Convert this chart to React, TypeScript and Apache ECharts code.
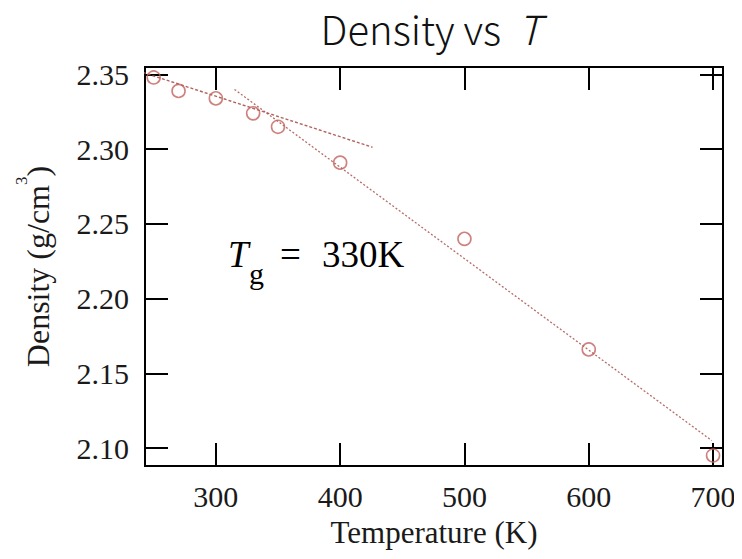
import React, { useEffect, useRef } from "react";
import * as echarts from "echarts";

// Measured density of the sample at each temperature
const temperatures = [250, 270, 300, 330, 350, 400, 500, 600, 700];
const densities = [2.348, 2.339, 2.334, 2.324, 2.315, 2.291, 2.240, 2.166, 2.095];

// Straight-line fits below and above the glass transition
const glassFitT = [226, 426];
const glassFitD = [2.3555, 2.3013];
const meltFitT = [315, 699];
const meltFitD = [2.340, 2.105];

// Axis ranges and ticks
const xRange = [243, 708];
const yRange = [2.088, 2.355];
const xTicks = [300, 400, 500, 600, 700];
const yTicks = [2.1, 2.15, 2.2, 2.25, 2.3, 2.35];

const serif = "Liberation Serif";
const markColor = "#c2625c";
const fitColor = "#a9524d";

export default function App() {
  const ref = useRef<HTMLDivElement>(null);

  useEffect(() => {
    if (!ref.current) return;
    const chart = echarts.init(ref.current, null, { renderer: "svg" });

    const tickStyle = { show: true, inside: true, length: 23, lineStyle: { color: "#000", width: 2 } };

    const option: any = {
      animation: false,
      backgroundColor: "#fff",
      grid: {
        left: 145,
        right: 19,
        top: 67,
        bottom: 93,
        show: true,
        borderColor: "#000",
        borderWidth: 2,
        containLabel: false,
        outerBoundsMode: "none",
      },
      xAxis: [
        {
          type: "value",
          min: xRange[0],
          max: xRange[1],
          position: "bottom",
          axisLine: { show: false },
          splitLine: { show: false },
          axisTick: { ...tickStyle, customValues: xTicks },
          axisLabel: {
            customValues: xTicks,
            margin: 15,
            fontFamily: serif,
            fontSize: 30,
            color: "#1a1a1a",
          },
          name: "Temperature (K)",
          nameLocation: "middle",
          nameGap: 51,
          nameTextStyle: { fontFamily: serif, fontSize: 31, color: "#1a1a1a" },
        },
        {
          type: "value",
          min: xRange[0],
          max: xRange[1],
          position: "top",
          axisLine: { show: false },
          splitLine: { show: false },
          axisTick: { ...tickStyle, customValues: xTicks },
          axisLabel: { show: false },
        },
      ],
      yAxis: [
        {
          type: "value",
          min: yRange[0],
          max: yRange[1],
          position: "left",
          axisLine: { show: false },
          splitLine: { show: false },
          axisTick: { ...tickStyle, customValues: yTicks },
          axisLabel: {
            customValues: yTicks,
            margin: 16,
            fontFamily: serif,
            fontSize: 30,
            color: "#1a1a1a",
            formatter: (v: number) => v.toFixed(2),
          },
          name: "{a|Density (g/cm}{s|3}{a|)}",
          nameLocation: "middle",
          nameGap: 82,
          nameTextStyle: {
            color: "#1a1a1a",
            rich: {
              a: { fontFamily: serif, fontSize: 32, color: "#1a1a1a", lineHeight: 50 },
              s: { fontFamily: serif, fontSize: 17, color: "#1a1a1a", verticalAlign: "top", lineHeight: 18 },
            },
          },
        },
        {
          type: "value",
          min: yRange[0],
          max: yRange[1],
          position: "right",
          axisLine: { show: false },
          splitLine: { show: false },
          axisTick: { ...tickStyle, customValues: yTicks },
          axisLabel: { show: false },
        },
      ],
      series: [
        {
          type: "line",
          data: glassFitT.map((t, i) => [t, glassFitD[i]]),
          showSymbol: false,
          clip: false,
          silent: true,
          lineStyle: { color: fitColor, width: 1.4, type: [3, 2], opacity: 0.9 },
          z: 2,
        },
        {
          type: "line",
          data: meltFitT.map((t, i) => [t, meltFitD[i]]),
          showSymbol: false,
          clip: false,
          silent: true,
          lineStyle: { color: fitColor, width: 1.3, type: [2, 2], opacity: 0.85 },
          z: 2,
        },
        {
          type: "scatter",
          data: temperatures.map((t, i) => [t, densities[i]]),
          symbol: "circle",
          symbolSize: 13,
          clip: false,
          itemStyle: { color: "rgba(0,0,0,0)", borderColor: markColor, borderWidth: 1.6 },
          z: 3,
        },
      ],
      graphic: [
        {
          type: "text",
          x: 431,
          y: 28,
          style: {
            text: "{a|Density vs }{i|T}",
            align: "center",
            verticalAlign: "middle",
            rich: {
              a: { fontFamily: "Noto Sans CJK JP", fontSize: 40, fontWeight: 300, fill: "#111" },
              i: { fontFamily: "Noto Sans CJK JP", fontSize: 40, fontWeight: 300, fontStyle: "italic", fill: "#111", padding: [0, 0, 0, 8] },
            },
          },
        },
        {
          type: "text",
          x: 228,
          y: 254.5,
          style: { text: "T", fontFamily: serif, fontSize: 37, fontStyle: "italic", fill: "#000", align: "left", verticalAlign: "middle" },
        },
        {
          type: "text",
          x: 249,
          y: 273,
          style: { text: "g", fontFamily: serif, fontSize: 30, fill: "#000", align: "left", verticalAlign: "middle" },
        },
        {
          type: "text",
          x: 280,
          y: 254.5,
          style: { text: "=", fontFamily: serif, fontSize: 37, fill: "#000", align: "left", verticalAlign: "middle" },
        },
        {
          type: "text",
          x: 322,
          y: 254.5,
          style: { text: "330K", fontFamily: serif, fontSize: 37, fill: "#000", align: "left", verticalAlign: "middle" },
        },
      ],
    };

    chart.setOption(option);
    return () => chart.dispose();
  }, []);

  return <div ref={ref} style={{ width: 742, height: 559, margin: -8 }} />;
}
